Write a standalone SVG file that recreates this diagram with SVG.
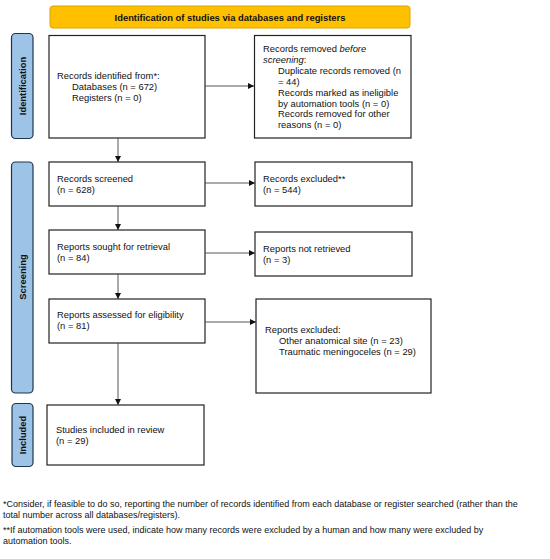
<svg xmlns="http://www.w3.org/2000/svg" width="550" height="559" viewBox="0 0 550 559">
<defs>
<marker id="ah" viewBox="0 0 10 10" refX="10" refY="5" markerWidth="6" markerHeight="6" markerUnits="userSpaceOnUse" orient="auto">
<path d="M0,0 L10,5 L0,10 z" fill="#111"/>
</marker>
</defs>
<style>
text{font-family:"Liberation Sans",Arial,sans-serif;font-size:9.4px;fill:#111}
.fn{font-size:9px}
.box{fill:#fff;stroke:#222;stroke-width:1.2}
.bar{fill:#9DC3E6;stroke:#1F3550;stroke-width:1.2}
.bl{font-weight:bold;text-anchor:middle}
.hdr{fill:#FFC000;stroke:#D9A400;stroke-width:1}
.con line{stroke:#444;stroke-width:0.9;marker-end:url(#ah)}
</style>
<rect width="550" height="559" fill="#fff"/>
<g id="header">
<rect class="hdr" x="50" y="6" width="360" height="22" rx="3"/>
<text class="bl" x="230" y="20.5">Identification of studies via databases and registers</text>
</g>
<g id="bar-identification">
<rect class="bar" x="11.5" y="33.5" width="21.5" height="105" rx="4"/>
<text class="bl" transform="translate(25.5,86) rotate(-90)">Identification</text>
</g>
<g id="bar-screening">
<rect class="bar" x="11.5" y="162" width="21.5" height="231" rx="4"/>
<text class="bl" transform="translate(25.5,277) rotate(-90)">Screening</text>
</g>
<g id="bar-included">
<rect class="bar" x="12" y="403.5" width="21" height="63" rx="4"/>
<text class="bl" transform="translate(25.5,435) rotate(-90)">Included</text>
</g>
<g id="records-identified">
<rect class="box" x="49" y="35.5" width="156" height="102.5"/>
<text x="57" y="79">Records identified from*:</text>
<text x="72" y="90">Databases (n = 672)</text>
<text x="72" y="101">Registers (n = 0)</text>
</g>
<g id="records-removed">
<rect class="box" x="254.5" y="35.5" width="156.5" height="102.5"/>
<text x="263" y="52">Records removed <tspan font-style="italic">before</tspan></text>
<text x="263" y="62.9"><tspan font-style="italic">screening</tspan>:</text>
<text x="278" y="73.8">Duplicate records removed (n</text>
<text x="278" y="84.7">= 44)</text>
<text x="278" y="95.6">Records marked as ineligible</text>
<text x="278" y="106.5">by automation tools (n = 0)</text>
<text x="278" y="117.4">Records removed for other</text>
<text x="278" y="128.3">reasons (n = 0)</text>
</g>
<g id="records-screened">
<rect class="box" x="49" y="162" width="156" height="44"/>
<text x="57" y="182">Records screened</text>
<text x="57" y="193">(n = 628)</text>
</g>
<g id="records-excluded">
<rect class="box" x="255" y="162" width="157" height="44"/>
<text x="263" y="182">Records excluded**</text>
<text x="263" y="193">(n = 544)</text>
</g>
<g id="reports-sought">
<rect class="box" x="49" y="230" width="156" height="44"/>
<text x="57" y="250">Reports sought for retrieval</text>
<text x="57" y="261">(n = 84)</text>
</g>
<g id="reports-not-retrieved">
<rect class="box" x="255" y="232" width="157" height="44"/>
<text x="263" y="252">Reports not retrieved</text>
<text x="263" y="263">(n = 3)</text>
</g>
<g id="reports-assessed">
<rect class="box" x="49" y="299" width="156" height="44"/>
<text x="57" y="318">Reports assessed for eligibility</text>
<text x="57" y="329">(n = 81)</text>
</g>
<g id="reports-excluded">
<rect class="box" x="256" y="299" width="175" height="94"/>
<text x="265" y="333">Reports excluded:</text>
<text x="279" y="344">Other anatomical site (n = 23)</text>
<text x="279" y="355">Traumatic meningoceles (n = 29)</text>
</g>
<g id="studies-included">
<rect class="box" x="47" y="405" width="157" height="60"/>
<text x="56" y="433">Studies included in review</text>
<text x="56" y="444">(n = 29)</text>
</g>
<g id="connectors" class="con">
<line x1="205" y1="86" x2="254" y2="86"/>
<line x1="118" y1="138" x2="118" y2="162"/>
<line x1="205" y1="183" x2="255" y2="183"/>
<line x1="118" y1="206" x2="118" y2="230"/>
<line x1="205" y1="253" x2="255" y2="253"/>
<line x1="118" y1="274" x2="118" y2="299"/>
<line x1="205" y1="322" x2="256" y2="322"/>
<line x1="118" y1="343" x2="118" y2="405"/>
</g>
<g id="footnotes">
<text class="fn" x="3" y="507">*Consider, if feasible to do so, reporting the number of records identified from each database or register searched (rather than the</text>
<text class="fn" x="3" y="518">total number across all databases/registers).</text>
<text class="fn" x="3" y="533">**If automation tools were used, indicate how many records were excluded by a human and how many were excluded by</text>
<text class="fn" x="3" y="544">automation tools.</text>
</g>
</svg>
